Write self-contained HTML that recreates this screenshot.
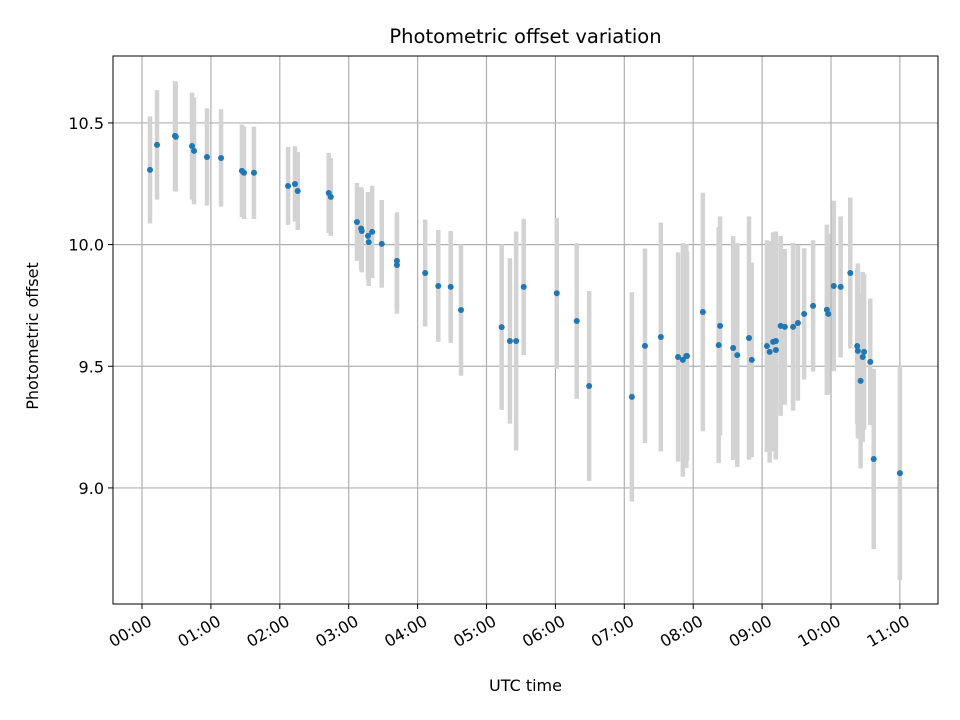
<!DOCTYPE html>
<html><head><meta charset="utf-8"><style>
html,body{margin:0;padding:0;background:#fff}
svg{display:block;font-family:"DejaVu Sans","Liberation Sans",sans-serif}
</style></head><body>
<svg id="chart" width="960" height="720" viewBox="0 0 960 720"></svg>
<script>
const times=[0.116,0.218,0.479,0.49,0.726,0.755,0.943,1.147,1.45,1.48,1.625,2.12,2.22,2.26,2.71,2.74,3.12,3.18,3.19,3.28,3.29,3.34,3.48,3.70,3.70,4.11,4.30,4.48,4.63,5.22,5.34,5.43,5.54,6.02,6.31,6.49,7.11,7.30,7.53,7.78,7.85,7.90,7.91,8.14,8.39,8.37,8.58,8.64,8.81,8.85,9.07,9.11,9.16,9.20,9.20,9.27,9.33,9.45,9.52,9.61,9.74,9.94,9.96,10.04,10.14,10.28,10.38,10.39,10.48,10.46,10.43,10.57,10.62,11.0];
const offsets=[10.307,10.41,10.447,10.443,10.405,10.385,10.36,10.356,10.303,10.295,10.295,10.241,10.249,10.22,10.212,10.196,10.093,10.066,10.056,10.036,10.01,10.052,10.003,9.933,9.916,9.883,9.83,9.826,9.731,9.661,9.604,9.604,9.826,9.80,9.686,9.419,9.374,9.584,9.62,9.538,9.526,9.542,9.542,9.723,9.666,9.587,9.575,9.546,9.616,9.526,9.583,9.559,9.6,9.604,9.567,9.666,9.662,9.662,9.678,9.715,9.748,9.732,9.715,9.83,9.826,9.883,9.583,9.563,9.559,9.538,9.44,9.518,9.119,9.061];
const errors=[0.22,0.225,0.225,0.225,0.22,0.22,0.2,0.2,0.19,0.19,0.19,0.16,0.155,0.16,0.165,0.16,0.16,0.17,0.17,0.18,0.18,0.19,0.18,0.2,0.2,0.22,0.23,0.23,0.27,0.34,0.34,0.45,0.28,0.31,0.32,0.39,0.43,0.40,0.47,0.43,0.48,0.46,0.43,0.49,0.45,0.485,0.46,0.46,0.5,0.4,0.435,0.455,0.45,0.45,0.45,0.37,0.32,0.345,0.32,0.27,0.27,0.35,0.33,0.35,0.29,0.31,0.32,0.36,0.32,0.35,0.36,0.26,0.37,0.44];
const xTickHours=[0,1,2,3,4,5,6,7,8,9,10,11];
const xTickLabels=["00:00","01:00","02:00","03:00","04:00","05:00","06:00","07:00","08:00","09:00","10:00","11:00"];
const yTicks=[9.0,9.5,10.0,10.5];
const yTickLabels=["9.0","9.5","10.0","10.5"];

const L=113,R=938,T=56,B=604;
const xMin=-0.421,xMax=11.553,yMin=8.523,yMax=10.775;
const X=h=>L+(h-xMin)/(xMax-xMin)*(R-L);
const Y=v=>B-(v-yMin)/(yMax-yMin)*(B-T);
const svg=document.getElementById('chart');
const NS="http://www.w3.org/2000/svg";
function mk(tag,attrs,parent){const e=document.createElementNS(NS,tag);for(const k in attrs)e.setAttribute(k,attrs[k]);(parent||svg).appendChild(e);return e;}

const grid=mk('g',{});


xTickHours.forEach(h=>{const l=mk('line',{x1:X(h),x2:X(h),y1:T,y2:B,stroke:'#b0b0b0','stroke-width':1.2},grid);

});
yTicks.forEach(v=>{const l=mk('line',{x1:L,x2:R,y1:Y(v),y2:Y(v),stroke:'#b0b0b0','stroke-width':1.2},grid);

});

const eb=mk('g',{});


times.forEach((t,i)=>{const l=mk('line',{x1:X(t),x2:X(t),y1:Y(offsets[i]+errors[i]),y2:Y(offsets[i]-errors[i]),stroke:'#d3d3d3','stroke-width':4.5},eb);

});
const pts=mk('g',{});


times.forEach((t,i)=>{const c=mk('circle',{cx:X(t),cy:Y(offsets[i]),r:3,fill:'#1f77b4'},pts);

});

const frame=mk('rect',{x:L,y:T,width:R-L,height:B-T,fill:'none',stroke:'#000','stroke-width':1});



xTickHours.forEach((h,i)=>{const x=X(h);
const tk=mk('line',{x1:x,x2:x,y1:B,y2:B+5,stroke:'#000'});


const ax=x+5, ay=B+10;
const tx=mk('text',{x:ax,y:ay,'font-size':16,'text-anchor':'end','dominant-baseline':'hanging',transform:`rotate(-30 ${ax} ${ay})`});
tx.textContent=xTickLabels[i];

});
yTicks.forEach((v,i)=>{const y=Y(v);
const tk=mk('line',{x1:L-5,x2:L,y1:y,y2:y,stroke:'#000'});


const tx=mk('text',{x:L-9,y:y+6,'font-size':16,'text-anchor':'end'});
tx.textContent=yTickLabels[i];

});

const title=mk('text',{x:(L+R)/2,y:43,'font-size':19.5,'text-anchor':'middle'});
title.textContent='Photometric offset variation';


const xt=mk('text',{x:(L+R)/2,y:691,'font-size':16,'text-anchor':'middle'});
xt.textContent='UTC time';


const yt=mk('text',{x:38,y:(T+B)/2+6,'font-size':16,'text-anchor':'middle',transform:`rotate(-90 38 ${(T+B)/2+6})`});
yt.textContent='Photometric offset';


</script>
</body></html>
